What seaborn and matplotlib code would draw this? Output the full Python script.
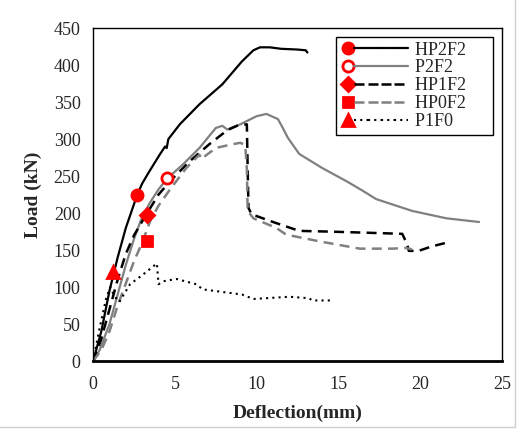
import numpy as np
import pandas as pd
import seaborn as sns
import matplotlib.pyplot as plt
from matplotlib.lines import Line2D
from matplotlib.legend_handler import HandlerTuple

sns.set_style("white")
plt.rcParams['font.family'] = ['Liberation Serif', 'DejaVu Serif']
plt.rcParams['xtick.direction'] = 'in'
plt.rcParams['ytick.direction'] = 'in'

# load-deflection curves
hp2f2_x = [0, 0.5, 1.0, 1.5, 2.0, 2.7, 3.0, 3.4, 4.1, 4.4, 4.5, 4.6, 5.3, 6.5, 7.9, 9.1, 9.8, 10.2, 10.8, 11.5, 12.5, 13.0, 13.1]
hp2f2_y = [0, 40, 95, 140, 180, 225, 240, 255, 280, 290, 288, 300, 320, 347, 374, 405, 420, 424, 424, 422, 421, 420, 417]

p2f2_x = [0, 0.4, 1.0, 1.5, 2.0, 2.5, 3.0, 3.5, 4.0, 4.5, 5.5, 6.5, 7.5, 7.9, 8.2, 9.0, 10.0, 10.6,
          11.3, 11.6, 11.9, 12.6, 14.0, 15.5, 16.5, 17.3, 19.5, 21.6, 23.6]
p2f2_y = [0, 15, 50, 90, 130, 165, 195, 215, 232, 246, 266, 288, 315, 318, 313, 320, 331, 334,
          327, 315, 302, 280, 261, 243, 230, 219, 203, 193, 188]

hp1f2_x = [0, 0.5, 1.0, 1.5, 2.0, 2.5, 3.3, 4.0, 4.7, 5.9, 7.1, 8.2, 8.8, 9.4, 9.45, 9.5, 9.7, 10.0,
           11.0, 11.8, 12.6, 14.5, 17.5, 18.9, 19.2, 19.3, 19.9, 20.7, 21.6]
hp1f2_y = [0, 30, 70, 110, 145, 170, 200, 225, 243, 270, 293, 312, 318, 320, 260, 207, 198, 196,
           188, 182, 176, 175, 173, 172, 158, 149, 149, 155, 160]

hp0f2_x = [0, 0.5, 1.0, 1.5, 2.0, 2.5, 3.0, 3.5, 4.0, 4.7, 5.7, 6.5, 6.6, 7.5, 8.5, 9.0, 9.3, 9.4,
           9.45, 9.8, 11.2, 11.8, 13.8, 16.3, 18.3, 19.1, 19.5]
hp0f2_y = [0, 15, 40, 75, 105, 135, 160, 190, 210, 232, 261, 279, 273, 288, 293, 295, 292, 260,
           203, 193, 180, 171, 162, 152, 152, 153, 151]

p1f0_x = [0, 0.4, 0.8, 1.05, 1.3, 1.6, 2.26, 3.05, 3.9, 4.0, 4.3, 5.1, 6.3, 6.7, 9.1, 9.8, 12.0, 13.2, 13.4, 14.5]
p1f0_y = [0, 45, 85, 100, 88, 80, 104, 117, 132, 104, 108, 111, 104, 97, 90, 84, 87, 85, 82, 82]

names = ['HP2F2', 'P2F2', 'HP1F2', 'HP0F2', 'P1F0']
mark_x = [2.7, 4.5, 3.3, 3.3, 1.2]
mark_y = [225, 247, 198, 162, 120]

fig = plt.figure(figsize=(5.29, 4.32), dpi=100)
ax = fig.add_axes([0.176, 0.164, 0.773, 0.771])

series = [(hp2f2_x, hp2f2_y), (p2f2_x, p2f2_y), (hp1f2_x, hp1f2_y), (hp0f2_x, hp0f2_y), (p1f0_x, p1f0_y)]
colors = ['black', '#808080', 'black', '#808080', 'black']
styles = ['-', '-', (0, (4, 2.5)), (0, (4, 2.5)), (0, (1, 2))]
widths = [1.6, 1.6, 1.8, 1.8, 1.5]
markers = ['o', 'o', 'D', 's', '^']
faces = ['red', 'white', 'red', 'red', 'red']
msizes = [8, 8, 7, 7, 8]

for (xs, ys), c, ls, lw in zip(series, colors, styles, widths):
    df = pd.DataFrame({'x': xs, 'y': ys})
    sns.lineplot(data=df, x='x', y='y', sort=False, estimator=None, color=c,
                 linestyle=ls, linewidth=lw, ax=ax)

handles = []
for i in range(5):
    ax.plot(mark_x[i], mark_y[i], marker=markers[i], markersize=msizes[i], color='red',
            markerfacecolor=faces[i], markeredgewidth=2, linestyle='none', zorder=5)
    mh = Line2D([], [], marker=markers[i], markersize=msizes[i], color='red',
                markerfacecolor=faces[i], markeredgewidth=2, linestyle='none')
    lh = Line2D([], [], color=colors[i], linestyle=styles[i], linewidth=widths[i])
    handles.append((mh, lh, lh, lh, lh))

ax.set_xlim(0, 25)
ax.set_ylim(0, 450)
ax.set_xticks(range(0, 26, 5))
ax.set_yticks(range(0, 451, 50))
ax.tick_params(labelsize=13, length=4, width=1)
ax.tick_params(axis='x', pad=11)
ax.tick_params(axis='y', pad=9)
for s in ax.spines.values():
    s.set_color('black')
    s.set_linewidth(1)
ax.spines['bottom'].set_linewidth(2)
ax.set_xlabel('Deflection(mm)', fontsize=14, fontweight='bold', labelpad=8)
ax.set_ylabel('Load (kN)', fontsize=14, fontweight='bold', labelpad=8)

# trailing spaces give the wide right margin of the original legend box
leg = ax.legend(handles, [n + '     ' for n in names],
                handler_map={tuple: HandlerTuple(ndivide=None, pad=0)},
                loc='upper right', bbox_to_anchor=(493 / 529, 1 - 37 / 432),
                bbox_transform=fig.transFigure, fontsize=13, handlelength=3.7,
                handletextpad=0.4, labelspacing=0.05, borderpad=0.25, fancybox=False,
                framealpha=1, borderaxespad=0)
leg.get_frame().set_edgecolor('black')
leg.get_frame().set_linewidth(1)

# faint border of the original picture
fig.add_artist(Line2D([0, 515 / 529], [1 - 427 / 432] * 2, color='#d0d0d0', lw=1))
fig.add_artist(Line2D([515 / 529] * 2, [1 - 427 / 432, 1], color='#d0d0d0', lw=1))

fig.savefig('out.png', dpi=100)
